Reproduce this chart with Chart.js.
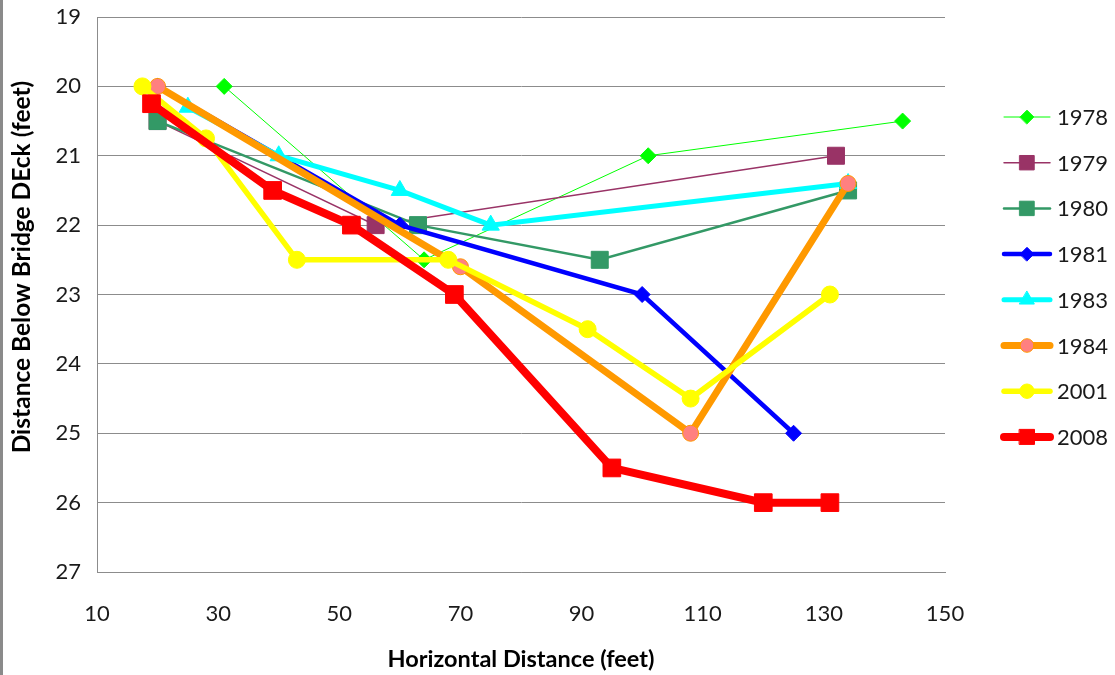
<!DOCTYPE html>
<html>
<head>
<meta charset="utf-8">
<script src="https://cdn.jsdelivr.net/npm/chart.js"></script>
<style>
  html, body { margin: 0; padding: 0; background: #fff; }
  #wrap { position: relative; width: 1115px; height: 675px; }
  #edge { position: absolute; left: 0; top: 0; width: 3px; height: 675px; background: #8a8a8a; }
  canvas { display: block; }
</style>
</head>
<body>
<div id="wrap">
  <canvas id="c" width="1115" height="675"></canvas>
  <div id="edge"></div>
</div>
<script>
// ---- data ----
const seriesNames = ['1978', '1979', '1980', '1981', '1983', '1984', '2001', '2008'];

const x1978 = [31, 64, 101, 143];
const y1978 = [20, 22.5, 21, 20.5];

const x1979 = [20, 56, 132];
const y1979 = [20.5, 22, 21];

const x1980 = [20, 63, 93, 134];
const y1980 = [20.5, 22, 22.5, 21.5];

const x1981 = [20, 60, 100, 125];
const y1981 = [20, 22, 23, 25];

const x1983 = [25, 40, 60, 75, 134];
const y1983 = [20.3, 21, 21.5, 22, 21.4];

const x1984 = [20, 70, 108, 134];
const y1984 = [20, 22.6, 25, 21.4];

const x2001 = [17.5, 28, 43, 68, 91, 108, 131];
const y2001 = [20, 20.75, 22.5, 22.5, 23.5, 24.5, 23];

const x2008 = [19, 39, 52, 69, 95, 120, 131];
const y2008 = [20.25, 21.5, 22, 23, 25.5, 26, 26];

const xTicks = [10, 30, 50, 70, 90, 110, 130, 150];
const yTicks = [19, 20, 21, 22, 23, 24, 25, 26, 27];

const xTitle = 'Horizontal Distance (feet)';
const yTitle = 'Distance Below Bridge DEck (feet)';

// ---- styles ----
const styles = [
  { line: '#00ff00', fill: '#00ff00', border: '#00ff00', width: 1,   shape: 'rectRot', r: 8,  bw: 1 },
  { line: '#993366', fill: '#993366', border: '#993366', width: 1.5, shape: 'rect',    r: 12, bw: 1 },
  { line: '#339966', fill: '#339966', border: '#339966', width: 2.5, shape: 'rect',    r: 12, bw: 1 },
  { line: '#0000ff', fill: '#0000ff', border: '#0000ff', width: 4.5, shape: 'rectRot', r: 8,  bw: 1 },
  { line: '#00ffff', fill: '#00ffff', border: '#00ffff', width: 5,   shape: 'triangle',r: 10, bw: 1 },
  { line: '#ff9900', fill: '#ff8080', border: '#ff9900', width: 7,   shape: 'circle',  r: 8,  bw: 1 },
  { line: '#ffff00', fill: '#ffff00', border: '#ffff00', width: 5.5, shape: 'circle',  r: 8.5,bw: 1 },
  { line: '#ff0000', fill: '#ff0000', border: '#ff0000', width: 8,   shape: 'rect',    r: 12.5, bw: 1 }
];

const xs = [x1978, x1979, x1980, x1981, x1983, x1984, x2001, x2008];
const ys = [y1978, y1979, y1980, y1981, y1983, y1984, y2001, y2008];

const datasets = seriesNames.map((name, i) => ({
  label: name,
  data: xs[i].map((x, k) => ({ x: x, y: ys[i][k] })),
  borderColor: styles[i].line,
  borderWidth: styles[i].width,
  backgroundColor: styles[i].fill,
  pointStyle: styles[i].shape,
  pointRadius: styles[i].r,
  pointBackgroundColor: styles[i].fill,
  pointBorderColor: styles[i].border,
  pointBorderWidth: styles[i].bw,
  tension: 0,
  fill: false,
  order: seriesNames.length - i
}));

const FONT = 'Lato, "Open Sans", sans-serif';
const GRID = '#8c8c8c';

const customDraw = {
  id: 'customDraw',
  afterDraw(chart) {
    const ctx = chart.ctx;
    const dp = (Chart.helpers && Chart.helpers.drawPoint) ? Chart.helpers.drawPoint : null;
    // legend
    seriesNames.forEach((name, i) => {
      const s = styles[i];
      const cy = 117 + i * 45.7;
      ctx.save();
      ctx.strokeStyle = s.line;
      ctx.lineWidth = s.width;
      ctx.lineCap = 'round';
      ctx.beginPath();
      ctx.moveTo(1004, cy);
      ctx.lineTo(1050, cy);
      ctx.stroke();
      ctx.fillStyle = s.fill;
      ctx.strokeStyle = s.border;
      ctx.lineWidth = s.bw;
      if (dp) dp(ctx, { pointStyle: s.shape, radius: s.r * 0.85, rotation: 0, borderWidth: s.bw }, 1027, cy);
      ctx.fillStyle = '#1a1a1a';
      ctx.font = '22px ' + FONT;
      ctx.textAlign = 'left';
      ctx.textBaseline = 'middle';
      ctx.fillText(name, 1057, cy + 1);
      ctx.restore();
    });
    // y axis title
    ctx.save();
    ctx.translate(22, 267);
    ctx.rotate(-Math.PI / 2);
    ctx.font = 'bold 24.5px ' + FONT;
    ctx.fillStyle = '#000';
    ctx.textAlign = 'center';
    ctx.textBaseline = 'middle';
    ctx.fillText(yTitle, 0, 0);
    ctx.restore();
  }
};

new Chart(document.getElementById('c'), {
  type: 'line',
  data: { datasets: datasets },
  options: {
    responsive: false,
    animation: false,
    events: [],
    layout: { padding: { left: 0, right: 170, top: 17, bottom: 0 } },
    plugins: { legend: { display: false }, tooltip: { enabled: false } },
    scales: {
      x: {
        type: 'linear',
        min: 10, max: 150,
        afterBuildTicks(scale) { scale.ticks = xTicks.map(v => ({ value: v })); },
        afterFit(scale) { scale.height = 103; scale.paddingTop = 0; scale.paddingBottom = 0; },
        ticks: { color: '#1a1a1a', font: { family: FONT, size: 22 }, padding: 21, maxRotation: 0 },
        grid: { display: false },
        border: { display: true, color: GRID, width: 1 },
        title: { display: true, text: xTitle, color: '#000', font: { family: FONT, size: 23.5, weight: 'bold' }, padding: { top: 0, bottom: 1 } }
      },
      y: {
        type: 'linear',
        reverse: true,
        min: 19, max: 27,
        afterBuildTicks(scale) { scale.ticks = yTicks.map(v => ({ value: v })); },
        afterFit(scale) { scale.width = 97; scale.paddingTop = 0; scale.paddingBottom = 0; },
        ticks: { color: '#1a1a1a', font: { family: FONT, size: 22 }, padding: 16 },
        grid: { color: GRID, lineWidth: 1, drawTicks: false },
        border: { display: true, color: GRID, width: 1 }
      }
    }
  },
  plugins: [customDraw]
});
</script>
</body>
</html>
